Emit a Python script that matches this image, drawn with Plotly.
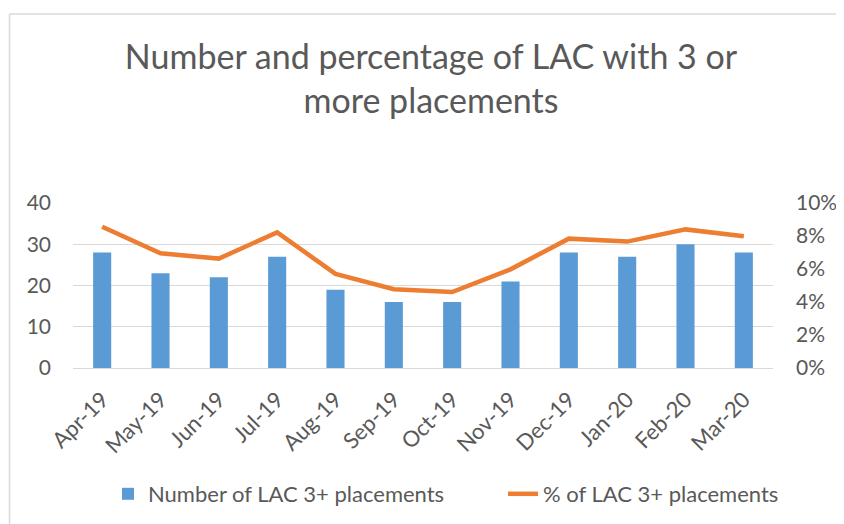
import plotly.graph_objects as go

# Monthly figures
months = ["Apr-19", "May-19", "Jun-19", "Jul-19", "Aug-19", "Sep-19",
          "Oct-19", "Nov-19", "Dec-19", "Jan-20", "Feb-20", "Mar-20"]
placements_count = [28, 23, 22, 27, 19, 16, 16, 21, 28, 27, 30, 28]
placements_pct = [0.0856, 0.0695, 0.0663, 0.0822, 0.0570, 0.0477,
                  0.0460, 0.0598, 0.0784, 0.0766, 0.0840, 0.0798]

count_ticks = [0, 10, 20, 30, 40]
pct_ticks = [0, 0.02, 0.04, 0.06, 0.08, 0.10]
pct_tick_labels = ["0%", "2%", "4%", "6%", "8%", "10%"]

FONT = "Lato"
GREY = "#595959"
GRID = "#D9D9D9"

fig = go.Figure()
fig.add_trace(go.Bar(x=months, y=placements_count, name="Number of LAC 3+ placements",
                     marker=dict(color="#5B9BD5", line=dict(width=0)), width=0.31,
                     legend="legend", showlegend=True))
fig.add_trace(go.Scatter(x=months, y=placements_pct, name="% of LAC 3+ placements",
                         mode="lines", yaxis="y2", legend="legend2", showlegend=True,
                         line=dict(color="#ED7D31", width=4.5)))

# the page body has an 8px margin, so the figure is drawn 8px smaller
OFF = 8
W, H = 844 - OFF, 524 - OFF
L, R, T, B = 72.5 - OFF, W - (773 - OFF), 203 - OFF, H - (368 - OFF)
pw, ph = W - L - R, H - T - B

# light chart border: only the top and left edges are visible
bx = (9 - OFF - L) / pw
by = (H - B - (14 - OFF)) / ph
fig.add_shape(type="line", xref="paper", yref="paper", x0=bx, x1=(W - L) / pw,
              y0=by, y1=by, line=dict(color=GRID, width=1.5), layer="below")
fig.add_shape(type="line", xref="paper", yref="paper", x0=bx, x1=bx,
              y0=by, y1=-B / ph, line=dict(color=GRID, width=1.5), layer="below")

legend_style = dict(orientation="h", xref="container", yref="container",
                    xanchor="left", y=1 - (494 - OFF) / H, yanchor="middle",
                    font=dict(size=22, color=GREY), bgcolor="rgba(0,0,0,0)",
                    visible=True)

fig.update_layout(
    width=W, height=H,
    showlegend=True,
    margin=dict(l=L, r=R, t=T, b=B, autoexpand=False),
    paper_bgcolor="white", plot_bgcolor="white",
    font=dict(family=FONT, color=GREY, size=21),
    title=dict(text="Number and percentage of LAC with 3 or<br>more placements",
               x=(431 - OFF) / W, xanchor="center", xref="container",
               y=1 - (69 - OFF) / H, yanchor="middle", yref="container",
               font=dict(family=FONT, size=34, color=GREY)),
    xaxis=dict(type="category", tickangle=-45, showgrid=False,
               showline=True, linecolor=GRID, linewidth=1,
               ticks="", ticklabelstandoff=9, tickfont=dict(size=22, color=GREY)),
    yaxis=dict(range=[0, 40], tickvals=count_ticks, showgrid=True,
               gridcolor=GRID, gridwidth=1, zeroline=False,
               ticklabelstandoff=21, tickfont=dict(size=21, color=GREY)),
    yaxis2=dict(range=[0, 0.10], tickvals=pct_ticks, ticktext=pct_tick_labels,
                overlaying="y", side="right", showgrid=False, zeroline=False,
                ticklabelstandoff=22, tickfont=dict(size=21, color=GREY)),
    legend=dict(x=(108 - OFF) / W, **legend_style),
    legend2=dict(x=(503 - OFF) / W, **legend_style),
)

fig.write_html("out.html")
